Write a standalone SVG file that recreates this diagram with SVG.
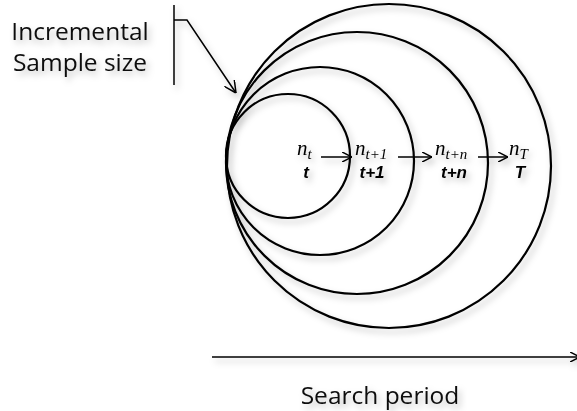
<svg xmlns="http://www.w3.org/2000/svg" width="577" height="411" viewBox="0 0 577 411">
<style>
.c{fill:none;stroke:#000;stroke-width:2.2}
.l{fill:none;stroke:#000;stroke-width:1.5}
.lbl{font-family:"Open Sans","Liberation Sans",sans-serif;font-size:24.5px;fill:#111;text-anchor:middle}
.n{font-family:"Liberation Serif","DejaVu Serif",serif;font-style:italic;font-size:21px;fill:#000}
.ns{font-size:15px}
.t{font-family:"Liberation Sans",sans-serif;font-style:italic;font-weight:bold;font-size:17px;fill:#000;text-anchor:middle}
</style>
<defs>
<filter id="sh" x="-10%" y="-10%" width="130%" height="130%">
<feDropShadow dx="3" dy="4" stdDeviation="3" flood-color="#000" flood-opacity="0.25"/>
</filter>
<marker id="ah" viewBox="0 0 10 10" refX="10" refY="5" markerWidth="10" markerHeight="10" markerUnits="userSpaceOnUse" orient="auto">
<path d="M0,0 L10,5 L0,10" fill="none" stroke="#000" stroke-width="1.5"/>
</marker>
<marker id="ah2" viewBox="0 0 12 12" refX="12" refY="6" markerWidth="12" markerHeight="12" markerUnits="userSpaceOnUse" orient="auto">
<path d="M0,0 L12,6 L0,12" fill="none" stroke="#000" stroke-width="1.5"/>
</marker>
</defs>
<g filter="url(#sh)">
<g id="title">
<text class="lbl" x="80" y="40">Incremental</text>
<text class="lbl" x="80" y="71">Sample size</text>
</g>
<g id="circle-T"><circle class="c" cx="389" cy="166" r="162"/></g>
<g id="circle-tn"><circle class="c" cx="357" cy="163" r="131"/></g>
<g id="circle-t1"><circle class="c" cx="320" cy="161" r="94"/></g>
<g id="circle-t"><circle class="c" cx="288" cy="156" r="62"/></g>
<g id="node-t">
<text class="n" x="297" y="155">n<tspan class="ns" dy="4">t</tspan></text>
<text class="t" x="306" y="178">t</text>
</g>
<g id="node-t1">
<text class="n" x="355" y="155">n<tspan class="ns" dy="4">t+1</tspan></text>
<text class="t" x="372" y="178">t+1</text>
</g>
<g id="node-tn">
<text class="n" x="435" y="155">n<tspan class="ns" dy="4">t+n</tspan></text>
<text class="t" x="454" y="178">t+n</text>
</g>
<g id="node-T">
<text class="n" x="509" y="155">n<tspan class="ns" dy="4">T</tspan></text>
<text class="t" x="520" y="178">T</text>
</g>
<g id="axis-label">
<text class="lbl" x="380" y="404">Search period</text>
</g>
<g id="connectors">
<path class="l" d="M174,5 V85"/>
<path class="l" d="M174,20 H187 L236,93" marker-end="url(#ah2)"/>
<path class="l" d="M321,157 H352" marker-end="url(#ah)"/>
<path class="l" d="M398,157 H432" marker-end="url(#ah)"/>
<path class="l" d="M478,157 H508" marker-end="url(#ah)"/>
<path class="l" d="M212,357 H580" marker-end="url(#ah)"/>
</g>
</g>
</svg>
